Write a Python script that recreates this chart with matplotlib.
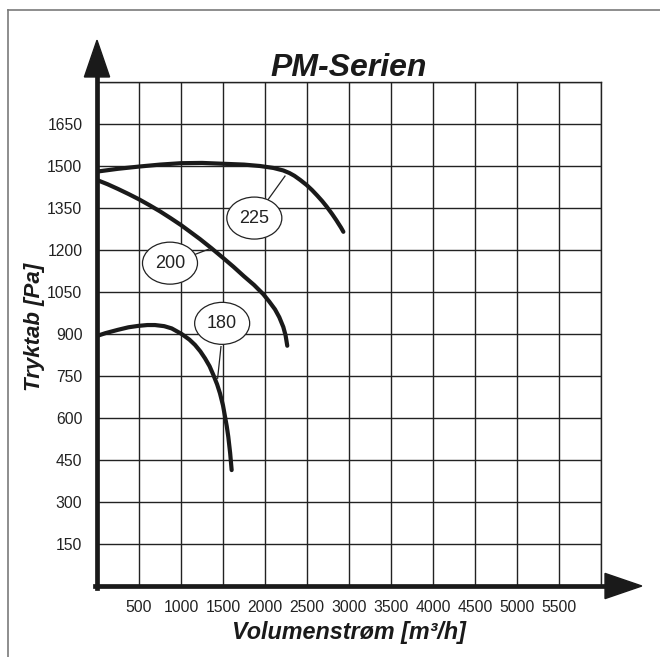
import numpy as np
import matplotlib
matplotlib.use("Agg")
import matplotlib.pyplot as plt
from matplotlib.patches import Ellipse, Polygon
from matplotlib.lines import Line2D

plt.rcParams['font.family'] = ['Liberation Sans', 'DejaVu Sans']

# fan curves: volume flow [m3/h] vs pressure [Pa]
x_225 = [0, 250, 500, 750, 1000, 1250, 1500, 1750, 1940, 2100, 2218, 2290, 2350, 2420,
         2496, 2560, 2620, 2680, 2734, 2800, 2850, 2873, 2905, 2933]
y_225 = [1480, 1490, 1498, 1505, 1510, 1511, 1508, 1505, 1500, 1493, 1484, 1475, 1465, 1450,
         1432, 1414, 1395, 1375, 1355, 1328, 1306, 1295, 1280, 1265]

x_200 = [0, 125, 250, 375, 500, 625, 750, 875, 1000, 1100, 1226, 1360, 1500, 1625, 1750,
         1870, 1980, 2050, 2119, 2170, 2218, 2245, 2265]
y_200 = [1450, 1435, 1418, 1400, 1381, 1360, 1338, 1314, 1289, 1267, 1239, 1207, 1172, 1140,
         1106, 1075, 1042, 1016, 988, 960, 925, 895, 858]

x_180 = [0, 100, 250, 375, 492, 600, 690, 800, 889, 1008, 1100, 1167, 1230, 1286, 1340,
         1385, 1430, 1464, 1500, 1524, 1545, 1563, 1585, 1603]
y_180 = [893, 903, 915, 924, 929, 932, 932, 928, 920, 900, 880, 861, 838, 813, 785,
         754, 720, 688, 645, 605, 570, 533, 475, 414]

# labels: text, ellipse centre, leader start, leader end
curve_labels = ["225", "200", "180"]
label_xy = [(1873, 1314), (869, 1153), (1490, 938)]
leader_from = [(2039, 1381), (1147, 1182), (1476, 855)]
leader_to = [(2238, 1464), (1365, 1207), (1436, 742)]

x_ticks = np.arange(0, 6001, 500)
y_ticks = np.arange(0, 1801, 150)

fig = plt.figure(figsize=(6.6, 6.57), dpi=100)
ax = fig.add_axes([97 / 660, 71 / 657, 504 / 660, 504 / 657])
ax.set_xlim(0, 6000)
ax.set_ylim(0, 1800)

ax.set_xticks(x_ticks)
ax.set_yticks(y_ticks)
ax.set_xticklabels([str(v) if 0 < v < 6000 else "" for v in x_ticks], fontsize=11.3)
ax.set_yticklabels([str(v) if 0 < v < 1800 else "" for v in y_ticks], fontsize=11.3)
ax.tick_params(length=0, colors='#222222')
ax.tick_params(axis='y', pad=10.5)
ax.tick_params(axis='x', pad=10)
ax.grid(True, color='#222222', linewidth=1.0)
ax.set_axisbelow(True)

for s in ['top', 'right']:
    ax.spines[s].set_linewidth(1.0)
    ax.spines[s].set_color('#222222')
for s in ['left', 'bottom']:
    ax.spines[s].set_visible(False)

# curves
for xs, ys in [(x_225, y_225), (x_200, y_200), (x_180, y_180)]:
    ax.plot(xs, ys, color='#1a1a1a', linewidth=3.0, solid_capstyle='round',
            solid_joinstyle='round', zorder=4)

# labels in ellipses
for txt, (cx, cy), p0, p1 in zip(curve_labels, label_xy, leader_from, leader_to):
    ax.plot([p0[0], p1[0]], [p0[1], p1[1]], color='#222222', linewidth=0.9, zorder=5)
    ax.add_patch(Ellipse((cx, cy), 655, 150, facecolor='white', edgecolor='#222222',
                         linewidth=0.9, zorder=6))
    ax.text(cx, cy, txt, ha='center', va='center', fontsize=13, color='#222222', zorder=7)

# thick axes with arrow heads
tr = ax.transAxes
ax.add_line(Line2D([0, 0], [-0.004, 1.012], transform=tr, color='#1a1a1a',
                   linewidth=3.4, clip_on=False, zorder=8))
ax.add_line(Line2D([-0.004, 1.01], [0, 0], transform=tr, color='#1a1a1a',
                   linewidth=3.4, clip_on=False, zorder=8))
ax.add_patch(Polygon([[-0.025, 1.010], [0.025, 1.010], [0, 1.083]], closed=True,
                     transform=tr, color='#1a1a1a', clip_on=False, zorder=8))
ax.add_patch(Polygon([[1.008, -0.025], [1.008, 0.025], [1.081, 0]], closed=True,
                     transform=tr, color='#1a1a1a', clip_on=False, zorder=8))

# title and axis labels
ax.text(0.5, 1.012, "PM-Serien", transform=tr, ha='center', va='baseline',
        fontsize=23, fontweight='bold', fontstyle='italic', color='#1a1a1a')
ax.text(0.5, -0.105, "Volumenstrøm [m³/h]", transform=tr, ha='center', va='baseline',
        fontsize=16.8, fontweight='bold', fontstyle='italic', color='#1a1a1a')
ax.text(-0.114, 0.514, "Tryktab [Pa]", transform=tr, ha='center', va='baseline',
        rotation=90, rotation_mode='anchor',
        fontsize=16, fontweight='bold', fontstyle='italic', color='#1a1a1a')

# grey outer frame (top and left only)
fx = 8 / 660
fy = 1 - 10 / 657
fig.add_artist(Line2D([fx, 1], [fy, fy], transform=fig.transFigure, color='#7a7a7a', linewidth=1.2))
fig.add_artist(Line2D([fx, fx], [0, fy], transform=fig.transFigure, color='#7a7a7a', linewidth=1.2))

fig.savefig("out.png", dpi=100)
